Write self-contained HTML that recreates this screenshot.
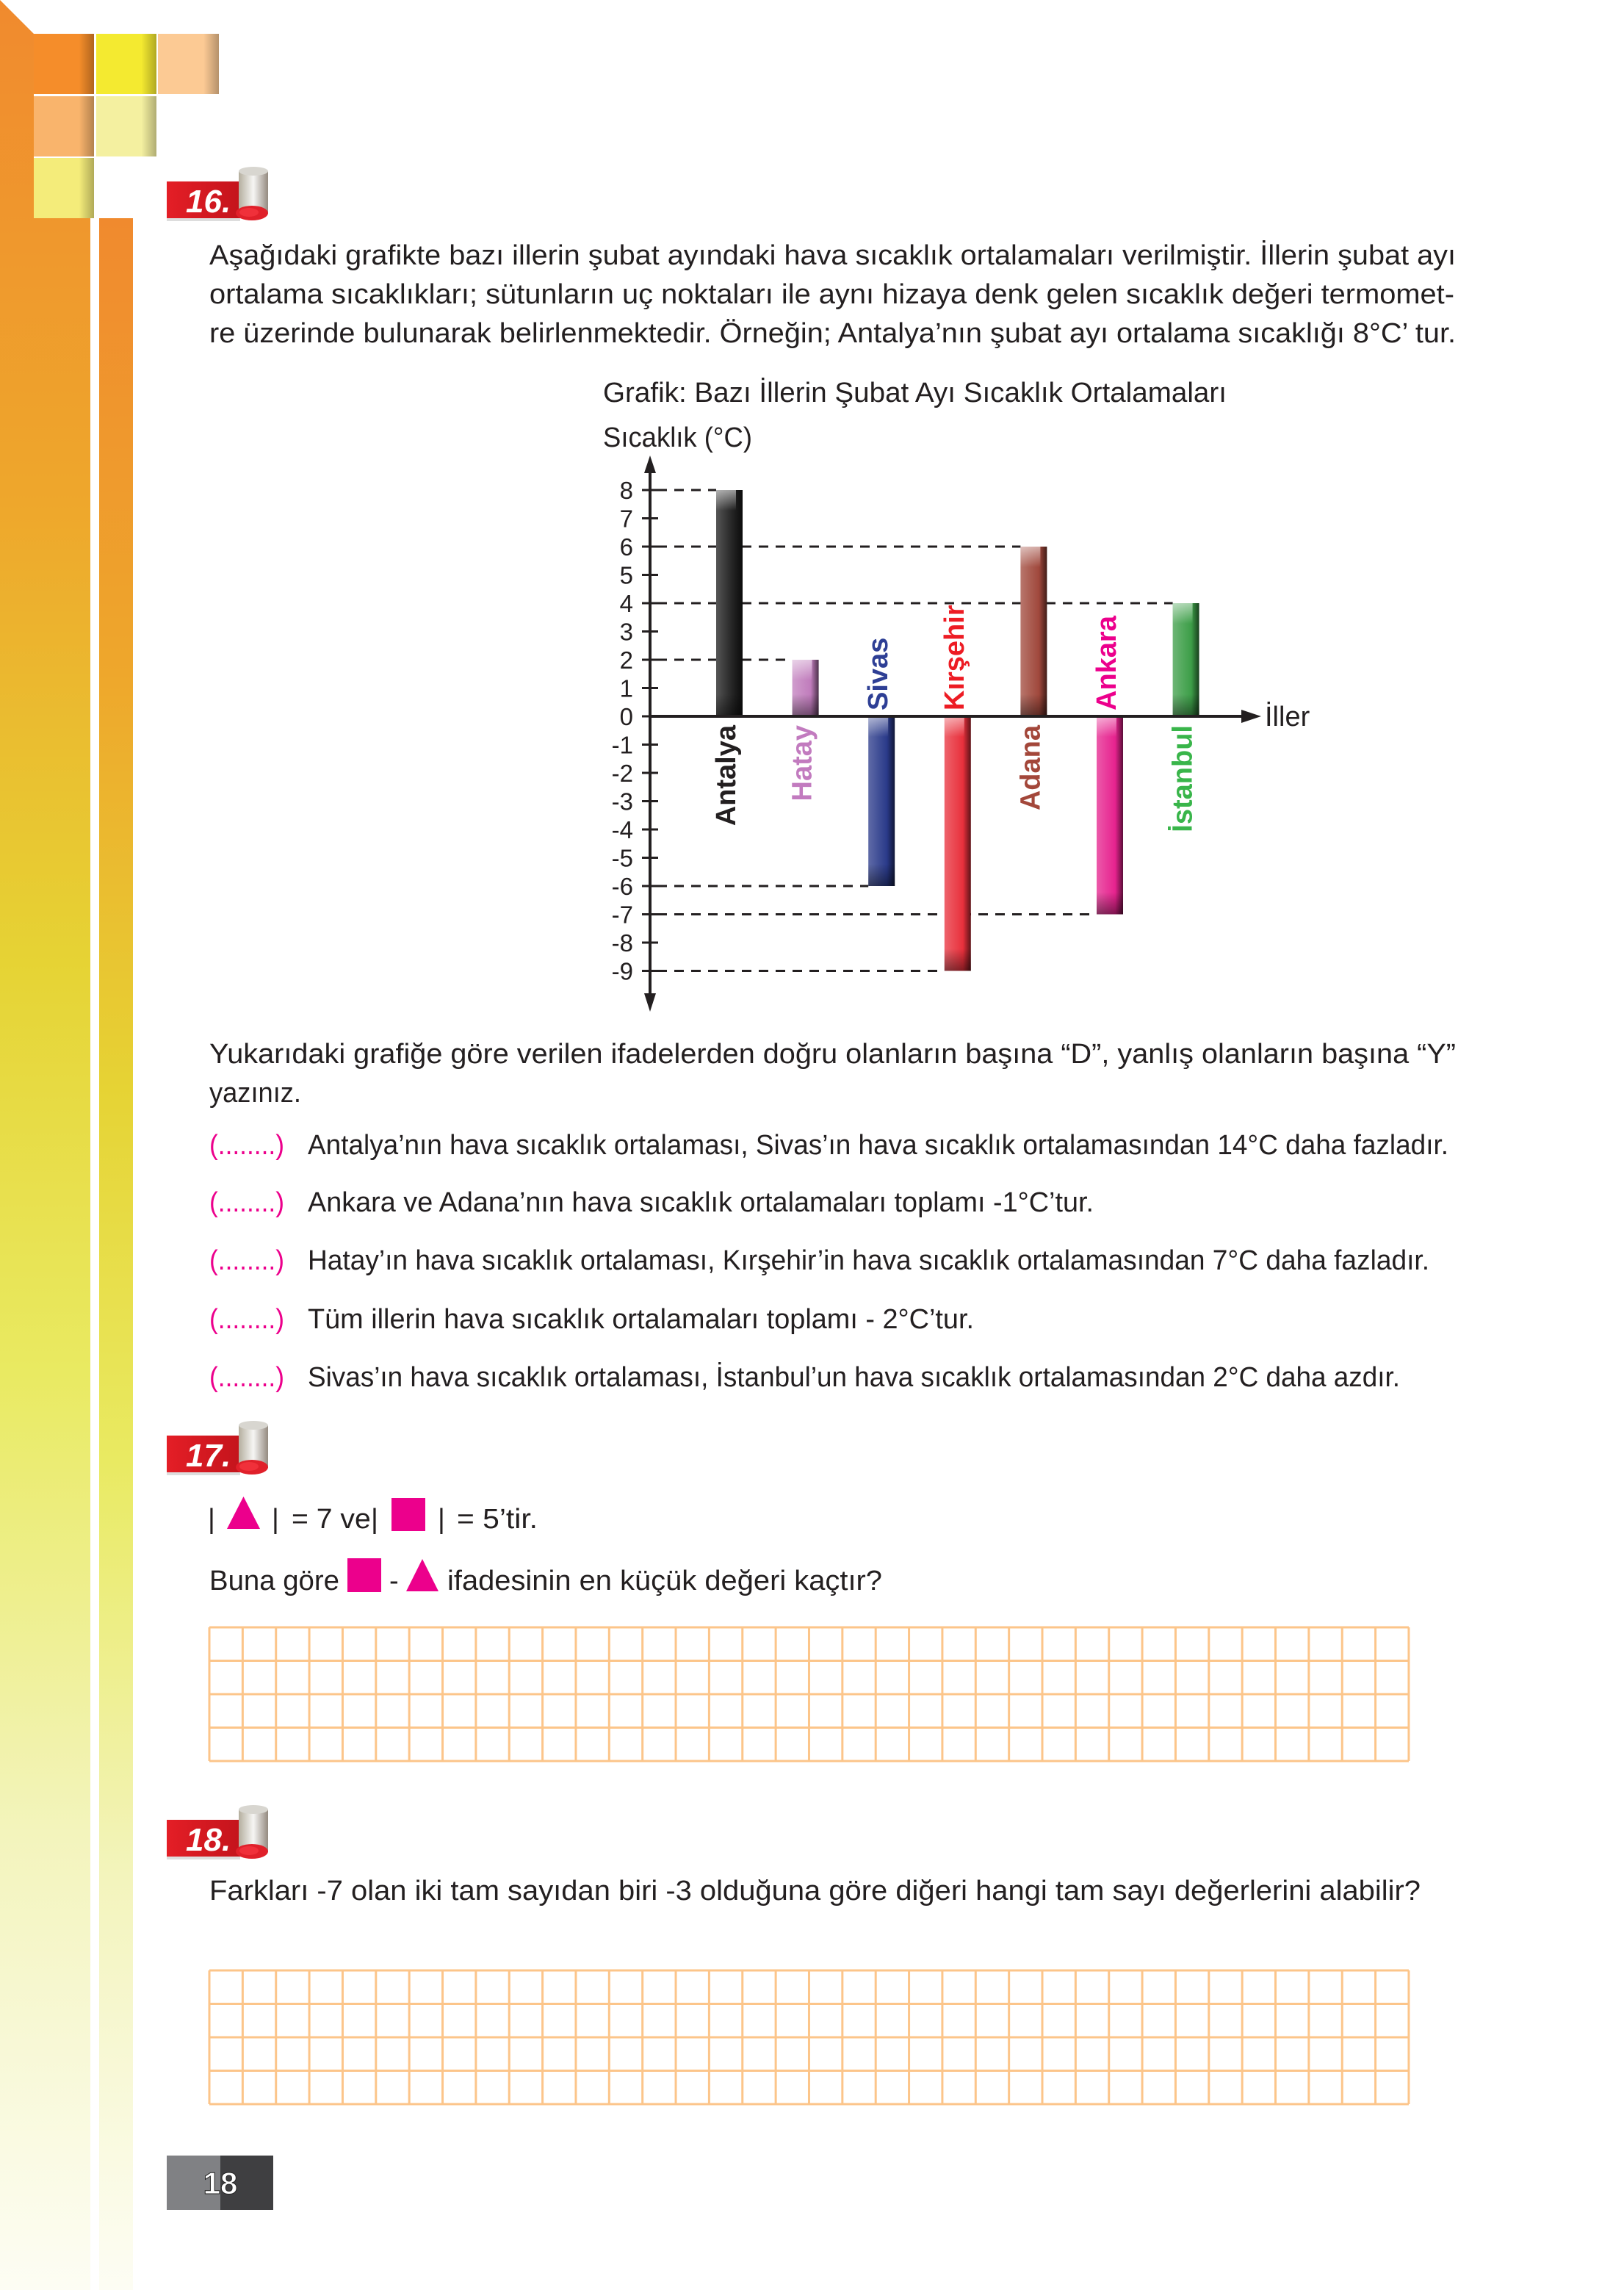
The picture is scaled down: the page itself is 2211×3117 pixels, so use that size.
<!DOCTYPE html>
<html><head><meta charset="utf-8">
<style>
html,body{margin:0;padding:0;background:#fff;}
svg{display:block;}
.t{font-family:"Liberation Sans",sans-serif;font-size:38px;fill:#231f20;}
</style></head>
<body>
<svg id="page" width="2211" height="3117" viewBox="0 0 2211 3117" xmlns="http://www.w3.org/2000/svg">
<defs>
<linearGradient id="stripG" x1="0" y1="0" x2="0" y2="1">
<stop offset="0" stop-color="#f08a2e"/><stop offset="0.22" stop-color="#eea72c"/>
<stop offset="0.42" stop-color="#e6d334"/><stop offset="0.6" stop-color="#e9ea62"/>
<stop offset="0.8" stop-color="#f3f4bc"/><stop offset="1" stop-color="#fdfdf4"/>
</linearGradient>
<linearGradient id="sqShade" x1="0" y1="0" x2="1" y2="0">
<stop offset="0.75" stop-color="#000" stop-opacity="0"/><stop offset="1" stop-color="#000" stop-opacity="0.28"/>
</linearGradient>
<linearGradient id="redG" x1="0" y1="0" x2="1" y2="0">
<stop offset="0" stop-color="#e41e26"/><stop offset="1" stop-color="#c4141c"/>
</linearGradient>
<linearGradient id="cylG" x1="0" y1="0" x2="1" y2="0">
<stop offset="0" stop-color="#b4ae9e"/><stop offset="0.5" stop-color="#f6f6f4"/><stop offset="1" stop-color="#948a80"/>
</linearGradient>
<linearGradient id="hlTop" x1="0" y1="0" x2="0" y2="1">
<stop offset="0" stop-color="#fff" stop-opacity="0.55"/><stop offset="1" stop-color="#fff" stop-opacity="0"/>
</linearGradient>
<linearGradient id="hlBot" x1="0" y1="1" x2="0" y2="0">
<stop offset="0" stop-color="#000" stop-opacity="0.45"/><stop offset="1" stop-color="#000" stop-opacity="0"/>
</linearGradient>
</defs>

<g>
<polygon points="0,0 46,46 46,297 123,297 123,3117 0,3117" fill="url(#stripG)"/>
<rect x="135" y="297" width="46" height="2820" fill="url(#stripG)"/>
<rect x="46" y="46" width="82" height="82" fill="#f58d2a"/><rect x="46" y="46" width="82" height="82" fill="url(#sqShade)"/>
<rect x="131" y="46" width="82" height="82" fill="#f4ea30"/><rect x="131" y="46" width="82" height="82" fill="url(#sqShade)"/>
<rect x="215" y="46" width="83" height="82" fill="#fcca94"/><rect x="215" y="46" width="83" height="82" fill="url(#sqShade)"/>
<rect x="46" y="131" width="82" height="82" fill="#f9b46c"/><rect x="46" y="131" width="82" height="82" fill="url(#sqShade)"/>
<rect x="131" y="131" width="82" height="82" fill="#f4f0a0"/><rect x="131" y="131" width="82" height="82" fill="url(#sqShade)"/>
<rect x="46" y="215" width="82" height="82" fill="#f4ec7a"/><rect x="46" y="215" width="82" height="82" fill="url(#sqShade)"/>
</g>

<g transform="translate(227,227)">
<rect x="0" y="68" width="100" height="6" fill="#ddd"/>
<rect x="0" y="20" width="100" height="50" fill="url(#redG)"/>
<rect x="98" y="6" width="40" height="58" fill="url(#cylG)"/>
<ellipse cx="118" cy="6" rx="20" ry="6" fill="#d8d6d0"/>
<ellipse cx="116" cy="63" rx="22" ry="10" fill="#e0202a"/>
<ellipse cx="112" cy="62" rx="13" ry="6" fill="#f0303a"/>
<text x="26" y="62" font-family="Liberation Sans" font-weight="bold" font-style="italic" font-size="44" fill="#fff">16.</text>
</g>
<g transform="translate(227,1934)">
<rect x="0" y="68" width="100" height="6" fill="#ddd"/>
<rect x="0" y="20" width="100" height="50" fill="url(#redG)"/>
<rect x="98" y="6" width="40" height="58" fill="url(#cylG)"/>
<ellipse cx="118" cy="6" rx="20" ry="6" fill="#d8d6d0"/>
<ellipse cx="116" cy="63" rx="22" ry="10" fill="#e0202a"/>
<ellipse cx="112" cy="62" rx="13" ry="6" fill="#f0303a"/>
<text x="26" y="62" font-family="Liberation Sans" font-weight="bold" font-style="italic" font-size="44" fill="#fff">17.</text>
</g>
<g transform="translate(227,2457)">
<rect x="0" y="68" width="100" height="6" fill="#ddd"/>
<rect x="0" y="20" width="100" height="50" fill="url(#redG)"/>
<rect x="98" y="6" width="40" height="58" fill="url(#cylG)"/>
<ellipse cx="118" cy="6" rx="20" ry="6" fill="#d8d6d0"/>
<ellipse cx="116" cy="63" rx="22" ry="10" fill="#e0202a"/>
<ellipse cx="112" cy="62" rx="13" ry="6" fill="#f0303a"/>
<text x="26" y="62" font-family="Liberation Sans" font-weight="bold" font-style="italic" font-size="44" fill="#fff">18.</text>
</g>

<g>
<text class="t" x="285" y="360" textLength="1697" lengthAdjust="spacingAndGlyphs">Aşağıdaki grafikte bazı illerin şubat ayındaki hava sıcaklık ortalamaları verilmiştir.  İllerin şubat ayı</text>
<text class="t" x="285" y="413" textLength="1695" lengthAdjust="spacingAndGlyphs">ortalama sıcaklıkları; sütunların uç noktaları ile aynı hizaya denk gelen sıcaklık değeri termomet-</text>
<text class="t" x="285" y="466" textLength="1697" lengthAdjust="spacingAndGlyphs">re üzerinde bulunarak belirlenmektedir. Örneğin; Antalya’nın şubat ayı ortalama sıcaklığı 8°C’ tur.</text>
</g>
<text class="t" x="821" y="547" textLength="849" lengthAdjust="spacingAndGlyphs">Grafik: Bazı İllerin Şubat Ayı Sıcaklık Ortalamaları</text>
<text class="t" x="821" y="608" textLength="203" lengthAdjust="spacingAndGlyphs">Sıcaklık (°C)</text>

<g id="chart"></g>

<g>
<text class="t" x="285" y="1447" textLength="1697" lengthAdjust="spacingAndGlyphs">Yukarıdaki grafiğe göre verilen ifadelerden doğru olanların başına “D”, yanlış olanların başına “Y”</text>
<text class="t" x="285" y="1500" textLength="125" lengthAdjust="spacingAndGlyphs">yazınız.</text>
<g>
<text class="t" x="285" y="1571" style="fill:#ec008c" textLength="102" lengthAdjust="spacingAndGlyphs">(........)</text>
<text class="t" x="419" y="1571" textLength="1553" lengthAdjust="spacingAndGlyphs">Antalya’nın hava sıcaklık ortalaması, Sivas’ın hava sıcaklık ortalamasından 14°C daha fazladır.</text></g>
<g>
<text class="t" x="285" y="1649" style="fill:#ec008c" textLength="102" lengthAdjust="spacingAndGlyphs">(........)</text>
<text class="t" x="419" y="1649" textLength="1070" lengthAdjust="spacingAndGlyphs">Ankara ve Adana’nın hava sıcaklık ortalamaları toplamı -1°C’tur.</text></g>
<g>
<text class="t" x="285" y="1728" style="fill:#ec008c" textLength="102" lengthAdjust="spacingAndGlyphs">(........)</text>
<text class="t" x="419" y="1728" textLength="1527" lengthAdjust="spacingAndGlyphs">Hatay’ın hava sıcaklık ortalaması, Kırşehir’in hava sıcaklık ortalamasından 7°C daha fazladır.</text></g>
<g>
<text class="t" x="285" y="1808" style="fill:#ec008c" textLength="102" lengthAdjust="spacingAndGlyphs">(........)</text>
<text class="t" x="419" y="1808" textLength="907" lengthAdjust="spacingAndGlyphs">Tüm illerin hava sıcaklık ortalamaları toplamı - 2°C’tur.</text></g>
<g>
<text class="t" x="285" y="1887" style="fill:#ec008c" textLength="102" lengthAdjust="spacingAndGlyphs">(........)</text>
<text class="t" x="419" y="1887" textLength="1487" lengthAdjust="spacingAndGlyphs">Sivas’ın hava sıcaklık ortalaması, İstanbul’un hava sıcaklık ortalamasından 2°C daha azdır.</text></g>
</g>

<g>
<text class="t" x="283" y="2080">|</text>
<polygon points="309,2081 331.5,2037 354,2081" fill="#ec008c"/>
<text class="t" x="370" y="2080">|</text>
<text class="t" x="397" y="2080" textLength="118" lengthAdjust="spacingAndGlyphs">= 7 ve|</text>
<rect x="533" y="2039" width="46" height="45" fill="#ec008c"/>
<text class="t" x="596" y="2080">|</text>
<text class="t" x="622" y="2080" textLength="110" lengthAdjust="spacingAndGlyphs">= 5’tir.</text>
<text class="t" x="285" y="2164" textLength="177" lengthAdjust="spacingAndGlyphs">Buna göre</text>
<rect x="473" y="2121" width="46" height="46" fill="#ec008c"/>
<text class="t" x="530" y="2164">-</text>
<polygon points="553,2166 575,2122 597,2166" fill="#ec008c"/>
<text class="t" x="609" y="2164" textLength="592" lengthAdjust="spacingAndGlyphs">ifadesinin en küçük değeri kaçtır?</text>
</g>
<g id="grid17"></g>

<text class="t" x="285" y="2586" textLength="1649" lengthAdjust="spacingAndGlyphs">Farkları -7 olan iki tam sayıdan biri -3 olduğuna göre diğeri hangi tam sayı değerlerini alabilir?</text>
<g id="grid18"></g>

<g>
<rect x="227" y="2934" width="73" height="74" fill="#808184"/>
<rect x="300" y="2934" width="72" height="74" fill="#3f3f41"/>
<text x="300" y="2986" text-anchor="middle" font-family="Liberation Sans" font-weight="bold" font-size="42" fill="#fff" stroke="#222" stroke-width="1">18</text>
</g>
</svg>

<script>
const categories = ["Antalya","Hatay","Sivas","Kırşehir","Adana","Ankara","İstanbul"];
const temps = [8, 2, -6, -9, 6, -7, 4];
const barColors = ["#1e1e1e","#c07cbc","#2a3a8a","#e8303c","#a0483c","#e6238e","#3d9e48"];
const labelColors = ["#231f20","#c27bbf","#2e3f95","#ed1c24","#a3473a","#ec008c","#39b54a"];
const tickValues = [8,7,6,5,4,3,2,1,0,-1,-2,-3,-4,-5,-6,-7,-8,-9];
const tickLabels = ["8","7","6","5","4","3","2","1","0","-1","-2","-3","-4","-5","-6","-7","-8","-9"];

const NS = "http://www.w3.org/2000/svg";
const chart = document.getElementById("chart");
const AX = 885, ZERO = 975, UNIT = 38.5, FIRST = 993, STEP = 103.6, BW = 36;
function yS(v){ return ZERO - v*UNIT; }
function xS(i){ return FIRST + i*STEP; }
function mk(tag, attrs, parent){
  const e = document.createElementNS(NS, tag);
  for (const k in attrs) e.setAttribute(k, attrs[k]);
  (parent||chart).appendChild(e);
  return e;
}
function shade(hex, f){
  let n = parseInt(hex.slice(1),16), r=n>>16, g=(n>>8)&255, b=n&255;
  if (f>0){ r+= (255-r)*f; g+=(255-g)*f; b+=(255-b)*f; } else { r*=1+f; g*=1+f; b*=1+f; }
  return "rgb("+Math.round(r)+","+Math.round(g)+","+Math.round(b)+")";
}
const defs = mk("defs", {});
barColors.forEach((c,i)=>{
  const g = mk("linearGradient", {id:"bg"+i, x1:"0", y1:"0", x2:"1", y2:"0"}, defs);
  mk("stop", {offset:"0", "stop-color":shade(c,0.25)}, g);
  mk("stop", {offset:"0.35", "stop-color":shade(c,0.12)}, g);
  mk("stop", {offset:"0.7", "stop-color":c}, g);
  mk("stop", {offset:"1", "stop-color":shade(c,-0.6)}, g);
});

temps.forEach((v,i)=>{
  const x0 = xS(i) - BW/2;
  const l = mk("line", {x1:AX+10, x2:x0, y1:yS(v), y2:yS(v), stroke:"#231f20", "stroke-width":3, "stroke-dasharray":"13 10"});
  
  
});

temps.forEach((v,i)=>{
  const y = Math.min(yS(v), ZERO), h = Math.abs(yS(v)-ZERO);
  const r = mk("rect", {x:xS(i)-BW/2, y:y, width:BW, height:h, fill:"url(#bg"+i+")"});
  
  
  if (v > 0) {
    mk("rect", {x:xS(i)-BW/2, y:y, width:BW*0.75, height:28, fill:"url(#hlTop)"});
    mk("rect", {x:xS(i)-BW/2, y:ZERO-30, width:BW, height:30, fill:"url(#hlBot)"});
  } else {
    mk("rect", {x:xS(i)-BW/2, y:ZERO, width:BW*0.75, height:28, fill:"url(#hlTop)"});
    mk("rect", {x:xS(i)-BW/2, y:y+h-30, width:BW, height:30, fill:"url(#hlBot)"});
  }
});

const ya = mk("line", {x1:AX, x2:AX, y1:640, y2:1358, stroke:"#231f20", "stroke-width":4});


mk("polygon", {points:(AX-8)+",644 "+AX+",620 "+(AX+8)+",644", fill:"#231f20"});
mk("polygon", {points:(AX-8)+",1352 "+AX+",1377 "+(AX+8)+",1352", fill:"#231f20"});
const xa = mk("line", {x1:AX, x2:1695, y1:ZERO, y2:ZERO, stroke:"#231f20", "stroke-width":4});


mk("polygon", {points:"1690,"+(ZERO-9)+" 1717,"+ZERO+" 1690,"+(ZERO+9), fill:"#231f20"});
const il = mk("text", {x:1722, y:ZERO+13, "font-family":"Liberation Sans", "font-size":38, fill:"#231f20"});
il.textContent = "İller";



tickValues.forEach((v,i)=>{
  mk("line", {x1:AX-11, x2:AX+11, y1:yS(v), y2:yS(v), stroke:"#231f20", "stroke-width":3});
  const t = mk("text", {x:862, y:yS(v)+12, "text-anchor":"end", "font-family":"Liberation Sans", "font-size":33, fill:"#231f20"});
  t.textContent = tickLabels[i];
  
  
});

categories.forEach((c,i)=>{
  const bx = xS(i) + 8;
  const below = temps[i] > 0;
  const yy = below ? ZERO + 12 : ZERO - 8;
  const t = mk("text", {transform:"translate("+bx+","+yy+") rotate(-90)", "text-anchor": below ? "end" : "start",
    "font-family":"Liberation Sans", "font-weight":"bold", "font-size":38, fill:labelColors[i]});
  t.textContent = c;
  
  
});

function grid(id, x0, y0, cols, rows, cw, ch){
  const g = document.getElementById(id);
  for (let c=0;c<=cols;c++){
    const l = document.createElementNS(NS,"line");
    l.setAttribute("x1", x0+c*cw); l.setAttribute("x2", x0+c*cw);
    l.setAttribute("y1", y0); l.setAttribute("y2", y0+rows*ch);
    l.setAttribute("stroke","#fcc58a"); l.setAttribute("stroke-width","3");
    g.appendChild(l);
  }
  for (let r=0;r<=rows;r++){
    const l = document.createElementNS(NS,"line");
    l.setAttribute("x1", x0); l.setAttribute("x2", x0+cols*cw);
    l.setAttribute("y1", y0+r*ch); l.setAttribute("y2", y0+r*ch);
    l.setAttribute("stroke","#fcc58a"); l.setAttribute("stroke-width","3");
    g.appendChild(l);
  }
}
grid("grid17", 285, 2215, 36, 4, 45.36, 45.5);
grid("grid18", 285, 2682, 36, 4, 45.36, 45.5);
</script>
</body></html>
